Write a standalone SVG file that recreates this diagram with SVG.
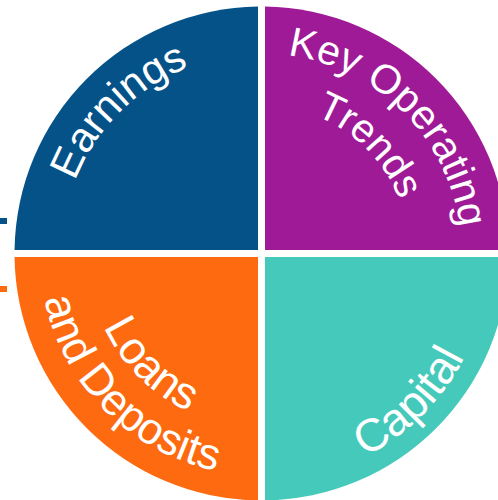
<svg xmlns="http://www.w3.org/2000/svg" width="498" height="500" viewBox="0 0 498 500">
  <style>
    .lbl { font-family: "Liberation Sans", Arial, sans-serif; fill: #ffffff; }
  </style>
  <defs>
    <path id="pEarn" d="M61.5,253.5 A200,200 0 0 1 261.5,53.5"/>
    <path id="pKey" d="M261.5,53.5 A200,200 0 0 1 461.5,253.5"/>
    <path id="pTrends" d="M261.5,105.5 A148,148 0 0 1 409.5,253.5"/>
    <path id="pLoans" d="M87.5,253.5 A174,174 0 0 0 261.5,427.5"/>
    <path id="pDep" d="M39.5,253.5 A222,222 0 0 0 261.5,475.5"/>
    <path id="pCap" d="M261.5,481.5 A228,228 0 0 0 489.5,253.5"/>
  </defs>
  <rect width="498" height="500" fill="#ffffff"/>
  <g id="marks">
    <rect x="0" y="218" width="7" height="6" fill="#045288"/>
    <rect x="0" y="286" width="7" height="6" fill="#FD6A10"/>
  </g>
  <g id="earnings">
    <path d="M258,250 V6.525 A247,247 0 0 0 14.525,250 Z" fill="#045288"/>
    <text class="lbl" font-size="42"><textPath href="#pEarn" startOffset="50%" text-anchor="middle">Earnings</textPath></text>
  </g>
  <g id="key-operating-trends">
    <path d="M265,250 H508.475 A247,247 0 0 0 265,6.525 Z" fill="#9F1A97"/>
    <text class="lbl" font-size="41"><textPath href="#pKey" startOffset="50%" text-anchor="middle">Key Operating</textPath></text>
    <text class="lbl" font-size="40"><textPath href="#pTrends" startOffset="50%" text-anchor="middle">Trends</textPath></text>
  </g>
  <g id="loans-and-deposits">
    <path d="M258,257 H14.525 A247,247 0 0 0 258,500.475 Z" fill="#FD6A10"/>
    <text class="lbl" font-size="45"><textPath href="#pLoans" startOffset="50%" text-anchor="middle">Loans</textPath></text>
    <text class="lbl" font-size="44"><textPath href="#pDep" startOffset="50%" text-anchor="middle">and Deposits</textPath></text>
  </g>
  <g id="capital">
    <path d="M265,257 V500.475 A247,247 0 0 0 508.475,257 Z" fill="#45C9BB"/>
    <text class="lbl" font-size="46"><textPath href="#pCap" startOffset="50%" text-anchor="middle">Capital</textPath></text>
  </g>
  <g id="connectors"/>
</svg>
